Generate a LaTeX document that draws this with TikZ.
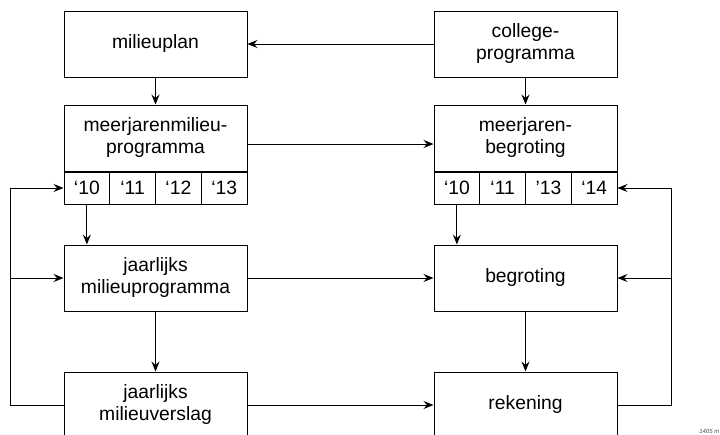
\documentclass[tikz,border=0pt]{standalone}
\usepackage{fontspec}
\setmainfont{Liberation Sans}
\usetikzlibrary{positioning,arrows.meta}

\begin{document}
\begin{tikzpicture}[
    node distance=94pt,
    plan/.style={rectangle, draw, line width=1pt, minimum width=183pt, minimum height=66pt, align=center, inner sep=0pt, font=\fontsize{19.3}{22}\selectfont},
    year/.style={rectangle, draw, line width=1pt, minimum width=45.75pt, minimum height=32pt, inner sep=0pt, font=\fontsize{19.3}{22}\selectfont},
    arrow/.style={line width=1pt,-{Stealth[length=10pt,width=8pt,inset=3.5pt]}}
]
    \useasboundingbox (0,0) rectangle (720pt,-434pt);

    % Plannen
    \node [plan] (mplan) at (155.5pt,-44pt) {milieuplan};
    \node [plan, right of=mplan, xshift=276pt] (college) {college-\\programma};

    % Meerjarig
    \node [plan, below of=mplan] (mmp) {meerjarenmilieu-\\programma};
    \node [plan, below of=college] (mjb) {meerjaren-\\begroting};

    % Jaren
    \node [year, below of=mmp, yshift=44pt, xshift=-68.625pt] (m10) {‘10};
    \node [year, below of=mmp, yshift=44pt, xshift=-22.875pt] (m11) {‘11};
    \node [year, below of=mmp, yshift=44pt, xshift=22.875pt] (m12) {‘12};
    \node [year, below of=mmp, yshift=44pt, xshift=68.625pt] (m13) {‘13};

    \node [year, below of=mjb, yshift=44pt, xshift=-68.625pt] (b10) {‘10};
    \node [year, below of=mjb, yshift=44pt, xshift=-22.875pt] (b11) {‘11};
    \node [year, below of=mjb, yshift=44pt, xshift=22.875pt] (b13) {’13};
    \node [year, below of=mjb, yshift=44pt, xshift=68.625pt] (b14) {‘14};

    % Jaarlijks
    \node [plan, below of=mmp, yshift=-46pt] (jmp) {jaarlijks\\milieuprogramma};
    \node [plan, below of=mjb, yshift=-46pt] (begroting) {begroting};
    \node [plan, below of=jmp, yshift=-33pt] (verslag) {jaarlijks\\milieuverslag};
    \node [plan, below of=begroting, yshift=-33pt] (rekening) {rekening};

    \node [font=\fontsize{6}{7}\selectfont\itshape, text=black!70, anchor=south east, inner sep=0.5pt] (code) at (720pt,-434pt) {1405 m};

    % Pijlen
    \draw [arrow] (college) -- (mplan);
    \draw [arrow] (mplan) -- (mmp);
    \draw [arrow] (college) -- (mjb);
    \draw [arrow] ([yshift=-6pt]mmp.east) -- ([yshift=-6pt]mjb.west);
    \draw [arrow] (m10.south) -- (m10.south |- jmp.north);
    \draw [arrow] (b10.south) -- (b10.south |- begroting.north);
    \draw [arrow] (jmp) -- (begroting);
    \draw [arrow] (jmp) -- (verslag);
    \draw [arrow] (begroting) -- (rekening);
    \draw [arrow] (verslag) -- (rekening);

    % Terugkoppeling
    \coordinate [left=53pt of verslag.west] (lterug);
    \coordinate [right=54pt of rekening.east] (rterug);
    \draw [arrow] (verslag.west) -- (lterug) |- (m10.west);
    \draw [arrow] (lterug) |- (jmp.west);
    \draw [arrow] (rekening.east) -- (rterug) |- (b14.east);
    \draw [arrow] (rterug) |- (begroting.east);
\end{tikzpicture}
\end{document}
